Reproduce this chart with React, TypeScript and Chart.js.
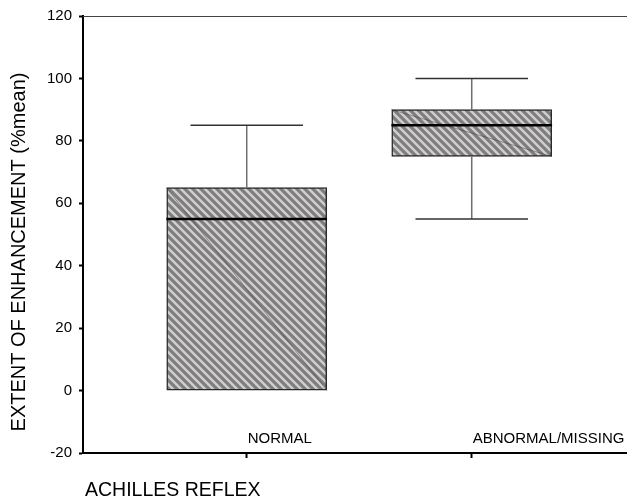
import React, { useEffect, useRef } from 'react';
import { Chart, registerables } from 'chart.js';

Chart.register(...registerables);

const categories = ['NORMAL', 'ABNORMAL/MISSING'];
const positions = [1, 2];
const whiskerLow = [0, 55];
const q1Values = [0, 75];
const medianValues = [55, 85];
const q3Values = [65, 90];
const whiskerHigh = [85, 100];
const yTickValues = [-20, 0, 20, 40, 60, 80, 100, 120];
const yAxisTitle = 'EXTENT OF ENHANCEMENT (%mean)';
const xAxisTitle = 'ACHILLES REFLEX';

const FONT = '"Liberation Sans", Arial, Helvetica, sans-serif';
const BOX_HALF = 0.357; // in x units
const CAP_HALF = 0.25;

function makePattern(): CanvasPattern | string {
  const size = 8;
  const c = document.createElement('canvas');
  c.width = size;
  c.height = size;
  const g = c.getContext('2d');
  if (!g) return '#808080';
  g.fillStyle = '#7e7e7e';
  g.fillRect(0, 0, size, size);
  g.strokeStyle = '#d4cfcf';
  g.lineWidth = 2.4;
  g.beginPath();
  g.moveTo(-2, -2);
  g.lineTo(size + 2, size + 2);
  g.moveTo(-2, size - 2);
  g.lineTo(2, size + 2);
  g.moveTo(size - 2, -2);
  g.lineTo(size + 2, 2);
  g.stroke();
  return g.createPattern(c, 'repeat') || '#808080';
}

const extrasPlugin = {
  id: 'boxExtras',
  afterDatasetsDraw(chart: any) {
    const { ctx, chartArea } = chart;
    const x = chart.scales.x;
    const y = chart.scales.y;
    ctx.save();
    // top frame line
    const ty = Math.round(y.getPixelForValue(120)) + 0.5;
    ctx.strokeStyle = '#444';
    ctx.lineWidth = 1.2;
    ctx.beginPath();
    ctx.moveTo(chartArea.left, ty);
    ctx.lineTo(chartArea.right, ty);
    ctx.stroke();

    positions.forEach((p, i) => {
      const cx = x.getPixelForValue(p);
      const bl = x.getPixelForValue(p - BOX_HALF);
      const br = x.getPixelForValue(p + BOX_HALF);
      const cl = x.getPixelForValue(p - CAP_HALF);
      const cr = x.getPixelForValue(p + CAP_HALF);
      const yMax = y.getPixelForValue(whiskerHigh[i]);
      const yMin = y.getPixelForValue(whiskerLow[i]);
      const yQ1 = y.getPixelForValue(q1Values[i]);
      const yQ3 = y.getPixelForValue(q3Values[i]);
      const yMed = y.getPixelForValue(medianValues[i]);

      // faint diagonal artifact inside box
      ctx.strokeStyle = 'rgba(50,50,50,0.55)';
      ctx.lineWidth = 0.8;
      ctx.beginPath();
      ctx.moveTo(bl, yQ3);
      ctx.lineTo(br, yQ1);
      ctx.stroke();

      // whiskers
      ctx.strokeStyle = '#6e6e6e';
      ctx.lineWidth = 1.5;
      ctx.beginPath();
      ctx.moveTo(cx, yQ3);
      ctx.lineTo(cx, yMax);
      if (whiskerLow[i] < q1Values[i]) {
        ctx.moveTo(cx, yQ1);
        ctx.lineTo(cx, yMin);
      }
      ctx.stroke();
      ctx.strokeStyle = '#333';
      ctx.beginPath();
      ctx.moveTo(cl, yMax);
      ctx.lineTo(cr, yMax);
      if (whiskerLow[i] < q1Values[i]) {
        ctx.moveTo(cl, yMin);
        ctx.lineTo(cr, yMin);
      }
      ctx.stroke();

      // median
      ctx.strokeStyle = '#000';
      ctx.lineWidth = 2.5;
      ctx.beginPath();
      ctx.moveTo(bl, yMed);
      ctx.lineTo(br, yMed);
      ctx.stroke();

      // category label
      ctx.fillStyle = '#000';
      ctx.font = `15px ${FONT}`;
      ctx.textAlign = 'left';
      ctx.textBaseline = 'alphabetic';
      ctx.fillText(categories[i], cx + 1, 443);
    });

    // axis titles
    ctx.fillStyle = '#000';
    ctx.font = `20px ${FONT}`;
    ctx.textBaseline = 'middle';
    ctx.textAlign = 'center';
    ctx.save();
    ctx.translate(19, 252);
    ctx.rotate(-Math.PI / 2);
    ctx.fillText(yAxisTitle, 0, 0);
    ctx.restore();

    ctx.font = `19.5px ${FONT}`;
    ctx.textAlign = 'left';
    ctx.textBaseline = 'alphabetic';
    ctx.fillText(xAxisTitle, 85, 496);
    ctx.restore();
  },
};

export default function App() {
  const canvasRef = useRef<HTMLCanvasElement | null>(null);

  useEffect(() => {
    const canvas = canvasRef.current;
    if (!canvas) return;
    const pattern = makePattern();
    const chart = new Chart(canvas, {
      type: 'bar',
      data: {
        datasets: [
          {
            data: positions.map((p, i) => ({ x: p, y: [q1Values[i], q3Values[i]] })) as any,
            backgroundColor: pattern as any,
            borderColor: '#2a2a2a',
            borderWidth: 1.5,
            borderSkipped: false,
            barThickness: 160,
          },
        ],
      },
      options: {
        animation: false,
        responsive: false,
        devicePixelRatio: 1,
        layout: { padding: { top: 15, left: 0, right: 0, bottom: 0 } },
        plugins: {
          legend: { display: false },
          tooltip: { enabled: false },
        },
        scales: {
          x: {
            type: 'linear',
            min: 0.2724,
            max: 2.69,
            offset: false,
            afterBuildTicks: (s: any) => {
              s.ticks = positions.map((v) => ({ value: v }));
            },
            afterFit: (s: any) => {
              s.height = 46;
            },
            ticks: { display: false },
            grid: {
              drawOnChartArea: false,
              offset: false,
              drawTicks: true,
              tickLength: 5,
              tickWidth: 2,
              tickColor: '#000',
            },
            border: { display: true, color: '#000', width: 2 },
          },
          y: {
            type: 'linear',
            min: -20,
            max: 120,
            afterBuildTicks: (s: any) => {
              s.ticks = yTickValues.map((v) => ({ value: v }));
            },
            afterFit: (s: any) => {
              s.width = 83;
            },
            ticks: {
              color: '#000',
              padding: 7,
              font: { family: FONT, size: 15 },
            },
            grid: {
              drawOnChartArea: false,
              drawTicks: true,
              tickLength: 4,
              tickWidth: 2,
              tickColor: '#000',
            },
            border: { display: true, color: '#000', width: 2 },
          },
        },
      } as any,
      plugins: [extrasPlugin],
    });
    return () => chart.destroy();
  }, []);

  return (
    <div
      style={{
        position: 'fixed',
        left: 0,
        top: 0,
        width: 627,
        height: 499,
        background: '#fff',
      }}
    >
      <canvas ref={canvasRef} width={627} height={499} style={{ display: 'block' }} />
    </div>
  );
}
